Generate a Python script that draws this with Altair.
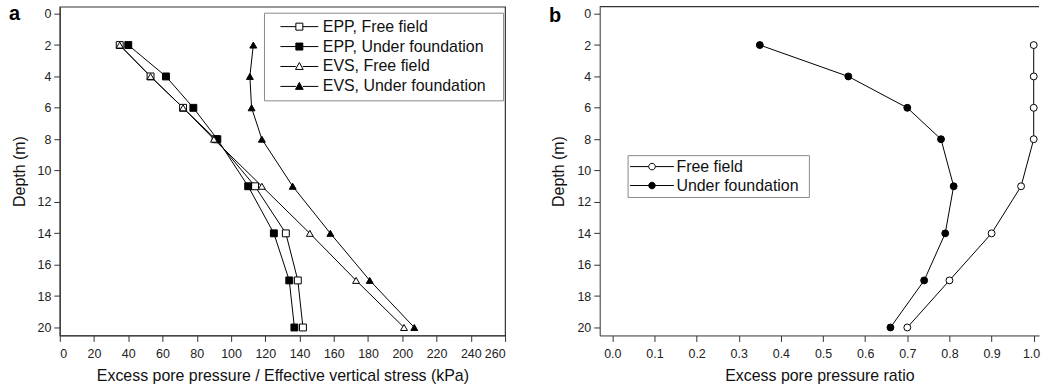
import altair as alt
import pandas as pd

# ---------------- data ----------------
depths = [2, 4, 6, 8, 11, 14, 17, 20]

series_a = ["EPP, Free field", "EPP, Under foundation", "EVS, Free field", "EVS, Under foundation"]
epp_free = [35, 53, 72, 91, 114, 132, 139, 142]
epp_under = [40, 62, 78, 92, 110, 125, 134, 137]
evs_free = [35, 53, 72, 90, 118, 146, 173, 201]
evs_under = [113, 111, 112, 118, 136, 158, 181, 207]

series_b = ["Free field", "Under foundation"]
ratio_free = [1.0, 1.0, 1.0, 1.0, 0.97, 0.90, 0.80, 0.70]
ratio_under = [0.35, 0.56, 0.70, 0.78, 0.81, 0.79, 0.74, 0.66]

x_ticks_a = list(range(0, 261, 20))
x_ticks_b = [0.0, 0.1, 0.2, 0.3, 0.4, 0.5, 0.6, 0.7, 0.8, 0.9, 1.0]
y_ticks = list(range(0, 21, 2))

FONT = "Liberation Sans"
FRAME = "#333"

rows_a = []
for name, vals in zip(series_a, [epp_free, epp_under, evs_free, evs_under]):
    for d, v in zip(depths, vals):
        rows_a.append({"series": name, "depth": d, "value": v})
df_a = pd.DataFrame(rows_a)

rows_b = []
for name, vals in zip(series_b, [ratio_free, ratio_under]):
    for d, v in zip(depths, vals):
        rows_b.append({"series": name, "depth": d, "value": v})
df_b = pd.DataFrame(rows_b)

y_enc = alt.Y("depth:Q",
              scale=alt.Scale(domain=[-0.444, 20.508], reverse=True, nice=False, zero=False),
              axis=alt.Axis(values=y_ticks, title="Depth (m)", titlePadding=10, labelPadding=3))


# legend symbol paths: line from x0 to 1 with a marker at its middle
def f(v):
    return f"{v:.3f}"


def sq(x0, h):
    c = (x0 + 1) / 2
    return (f"M{f(x0)},0H{f(c - h)}M{f(c + h)},0H1"
            f"M{f(c - h)},{f(-h)}H{f(c + h)}V{f(h)}H{f(c - h)}Z")


def tri(x0, h):
    c = (x0 + 1) / 2
    return (f"M{f(x0)},0H{f(c - h)}M{f(c + h)},0H1"
            f"M{f(c)},{f(-h * 1.15)}L{f(c + h * 1.1)},{f(h * 0.85)}L{f(c - h * 1.1)},{f(h * 0.85)}Z")


def circ(x0, r):
    c = (x0 + 1) / 2
    return (f"M{f(x0)},0H{f(c - r)}M{f(c + r)},0H1"
            f"M{f(c - r)},0A{f(r)},{f(r)} 0 1,0 {f(c + r)},0A{f(r)},{f(r)} 0 1,0 {f(c - r)},0Z")


def panel(df, series, x_enc, shapes, fills, legend_paths, sym_size, legend_props,
          label, label_y, width, open_right=False):
    n = len(series)
    base = alt.Chart(df)
    lines = base.mark_line(color="black", strokeWidth=1).encode(
        x=x_enc, y=y_enc, detail="series:N", order="depth:Q")
    pts = base.mark_point(opacity=1, color="black", strokeWidth=1, size=48).encode(
        x=x_enc, y=y_enc,
        shape=alt.Shape("series:N", scale=alt.Scale(domain=series, range=shapes), legend=None),
        fill=alt.Fill("series:N", scale=alt.Scale(domain=series, range=fills), legend=None),
    )
    lg = alt.Legend(**legend_props)
    leg = base.transform_filter("false").mark_point(opacity=1, strokeWidth=1).encode(
        x=x_enc, y=y_enc,
        shape=alt.Shape("series:N", scale=alt.Scale(domain=series, range=legend_paths), legend=lg),
        fill=alt.Fill("series:N", scale=alt.Scale(domain=series, range=fills), legend=lg),
        stroke=alt.Stroke("series:N", scale=alt.Scale(domain=series, range=["black"] * n), legend=lg),
        size=alt.Size("series:N", scale=alt.Scale(domain=series, range=[sym_size] * n), legend=lg),
    )
    lab = alt.Chart(pd.DataFrame({"t": [label]})).mark_text(
        font=FONT, fontSize=20, fontWeight="bold", align="left", baseline="alphabetic",
        color="black").encode(text="t:N", x=alt.value(-51), y=alt.value(label_y))
    layers = [lines, pts, leg, lab]
    props = dict(width=width, height=330)
    if open_right:
        # frame continues beyond the window on the right: draw only the top edge
        top = alt.Chart(pd.DataFrame({"t": [0]})).mark_rule(
            color=FRAME, strokeWidth=1.2).encode(
            x=alt.value(0), x2=alt.value(width), y=alt.value(0))
        layers.append(top)
        props["view"] = alt.ViewBackground(stroke="transparent")
    return alt.layer(*layers).resolve_scale(
        shape="independent", fill="independent", stroke="independent", size="independent"
    ).properties(**props)


# a blank (white) title placed to the right of the entries leaves the right margin of the box
common_leg = dict(title=".", titleColor="white", titleFont=FONT, titleFontSize=16,
                  titleOrient="right", labelFont=FONT, labelFontSize=16, labelColor="#111",
                  strokeColor="#8a8a8a", fillColor="white", symbolStrokeWidth=1,
                  rowPadding=0, orient="none", labelLimit=400)

# panel a: symbol box 50px wide, 12px blank on the left, 38px line
leg_a = dict(common_leg, legendX=205, legendY=6, padding=4, clipHeight=20, labelOffset=4,
             titlePadding=8)
# panel b: symbol box 44px wide, line fills it
leg_b = dict(common_leg, legendX=28, legendY=149, padding=2, clipHeight=19, labelOffset=2,
             titlePadding=3)

WB = 441  # plot b runs to the window's right edge
x_a = alt.X("value:Q", scale=alt.Scale(domain=[0, 260], nice=False, zero=False),
            axis=alt.Axis(values=x_ticks_a,
                          title="Excess pore pressure / Effective vertical stress (kPa)",
                          labelPadding=6.5, titlePadding=7.5))
x_b = alt.X("value:Q", scale=alt.Scale(domain=[-0.03, -0.03 + WB / 423.0], nice=False, zero=False),
            axis=alt.Axis(values=x_ticks_b, format=".1f", title="Excess pore pressure ratio",
                          labelPadding=6.5, titlePadding=7.5, labelFlush=8,
                          labelFlushOffset=6))

pa = panel(df_a, series_a, x_a, ["square", "square", "triangle-up", "triangle-up"],
           ["white", "black", "white", "black"],
           [sq(-0.52, 0.14), sq(-0.52, 0.14), tri(-0.52, 0.14), tri(-0.52, 0.14)],
           50 * 50, leg_a, "a", 13, 447)
pb = panel(df_b, series_b, x_b, ["circle", "circle"], ["white", "black"],
           [circ(-1, 0.15), circ(-1, 0.15)], 44 * 44, leg_b, "b", 15, WB, open_right=True)

chart = alt.hconcat(pa, pb, spacing=41).properties(
    padding={"left": 8, "top": 2, "right": 0, "bottom": 0}
).configure(font=FONT).configure_view(
    stroke=FRAME, strokeWidth=1.2
).configure_axis(
    labelFont=FONT, titleFont=FONT, labelFontSize=12.5, titleFontSize=16,
    labelColor="#222", titleColor="#111", tickColor=FRAME, domainColor=FRAME,
    tickSize=6, grid=False, titleFontWeight="normal"
)

chart.save("out.html", embed_options={"renderer": "svg", "actions": False})
